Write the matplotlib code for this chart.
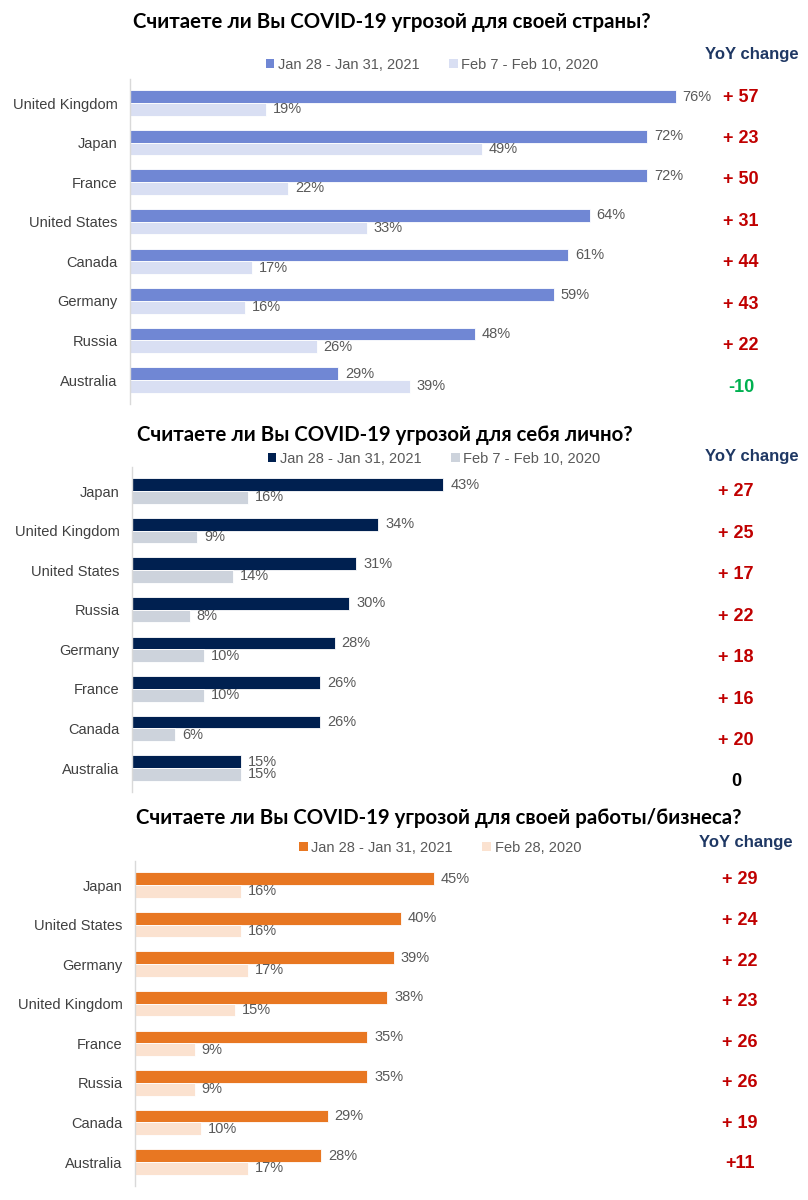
import matplotlib
matplotlib.use("Agg")
import matplotlib.pyplot as plt
from matplotlib.patches import Patch
import numpy as np

plt.rcParams['font.family'] = ['Liberation Sans', 'DejaVu Sans']

# ---------------- data ----------------
p1_countries = ["United Kingdom", "Japan", "France", "United States", "Canada", "Germany", "Russia", "Australia"]
p1_2021 = [76, 72, 72, 64, 61, 59, 48, 29]
p1_2020 = [19, 49, 22, 33, 17, 16, 26, 39]
p1_yoy = ["+ 57", "+ 23", "+ 50", "+ 31", "+ 44", "+ 43", "+ 22", "-10"]
p1_title = "Считаете ли Вы COVID-19 угрозой для своей страны?"
p1_legend = ["Jan 28 - Jan 31, 2021", "Feb 7 - Feb 10, 2020"]

p2_countries = ["Japan", "United Kingdom", "United States", "Russia", "Germany", "France", "Canada", "Australia"]
p2_2021 = [43, 34, 31, 30, 28, 26, 26, 15]
p2_2020 = [16, 9, 14, 8, 10, 10, 6, 15]
p2_yoy = ["+ 27", "+ 25", "+ 17", "+ 22", "+ 18", "+ 16", "+ 20", "0"]
p2_title = "Считаете ли Вы COVID-19 угрозой для себя лично?"
p2_legend = ["Jan 28 - Jan 31, 2021", "Feb 7 - Feb 10, 2020"]

p3_countries = ["Japan", "United States", "Germany", "United Kingdom", "France", "Russia", "Canada", "Australia"]
p3_2021 = [45, 40, 39, 38, 35, 35, 29, 28]
p3_2020 = [16, 16, 17, 15, 9, 9, 10, 17]
p3_yoy = ["+ 29", "+ 24", "+ 22", "+ 23", "+ 26", "+ 26", "+ 19", "+11"]
p3_title = "Считаете ли Вы COVID-19 угрозой для своей работы/бизнеса?"
p3_legend = ["Jan 28 - Jan 31, 2021", "Feb 28, 2020"]

W, H = 808, 1200
fig = plt.figure(figsize=(W / 100, H / 100), dpi=100)
fig.patch.set_facecolor("white")

TXT = "#404040"
VAL = "#595959"
RED = "#C00000"
GREEN = "#00B050"
NAVY = "#1F3864"


def rect(x0, y0, x1, y1):
    return [x0 / W, 1 - y1 / H, (x1 - x0) / W, (y1 - y0) / H]


def panel(countries, v21, v20, yoy, title, legend_labels, c21, c20,
          x0, scale, yfirst, ylast, title_xy, legend_xy, yoy_head_xy,
          yoy_x, yoy_first, yoy_last):
    n = len(countries)
    sp = (ylast - yfirst) / (n - 1)
    xmax = 80
    ax = fig.add_axes(rect(x0, yfirst - 0.6 * sp, x0 + xmax * scale, ylast + 0.6 * sp))
    y = np.arange(n)
    h = 0.32
    ax.barh(y - h / 2, v21, height=h, color=c21, edgecolor="white", linewidth=0.6)
    ax.barh(y + h / 2, v20, height=h, color=c20, edgecolor="white", linewidth=0.6)
    for i in range(n):
        ax.annotate(f"{v21[i]}%", (v21[i], y[i] - h / 2), xytext=(5, 0),
                    textcoords="offset points", va="center", ha="left",
                    fontsize=10.5, color=VAL)
        ax.annotate(f"{v20[i]}%", (v20[i], y[i] + h / 2), xytext=(5, 0),
                    textcoords="offset points", va="center", ha="left",
                    fontsize=10.5, color=VAL)
    ax.set_xlim(0, xmax)
    ax.set_ylim(n - 0.4, -0.6)
    ax.set_yticks(y)
    ax.set_yticklabels(countries, fontsize=10.5, color=TXT)
    ax.tick_params(axis="y", length=0, pad=9)
    ax.set_xticks([])
    for s in ["top", "right", "bottom"]:
        ax.spines[s].set_visible(False)
    ax.spines["left"].set_color("#D9D9D9")
    ax.spines["left"].set_linewidth(1.0)
    ax.patch.set_alpha(0)

    fig.text(title_xy[0] / W, 1 - title_xy[1] / H, title, ha="center", va="center",
             fontsize=14.7, fontweight="bold", family=["Lato", "DejaVu Sans"], color="black")

    handles = [Patch(facecolor=c21, edgecolor="none"), Patch(facecolor=c20, edgecolor="none")]
    fig.legend(handles, legend_labels, loc="center",
               bbox_to_anchor=(legend_xy[0] / W, 1 - legend_xy[1] / H),
               ncol=2, frameon=False, fontsize=10.5, labelcolor=VAL,
               handlelength=0.6, handleheight=0.6, handletextpad=0.25,
               columnspacing=2.0, borderaxespad=0, borderpad=0)

    fig.text(yoy_head_xy[0] / W, 1 - yoy_head_xy[1] / H, "YoY change", ha="center",
             va="center", fontsize=12, fontweight="bold", color=NAVY)

    yax = fig.add_axes(rect(yoy_x - 30, yoy_first, yoy_x + 30, yoy_last))
    yax.set_axis_off()
    yax.set_xlim(0, 1)
    yax.set_ylim(n - 1, 0)
    for i, lab in enumerate(yoy):
        if lab.startswith("-"):
            col = GREEN
        elif lab.strip() == "0":
            col = "black"
        else:
            col = RED
        yax.text(0.5, i, lab, ha="center", va="center", fontsize=13,
                 fontweight="bold", color=col)
    return ax


panel(p1_countries, p1_2021, p1_2020, p1_yoy, p1_title, p1_legend,
      "#7087D4", "#D9DFF3",
      x0=130, scale=7.18, yfirst=103, ylast=380,
      title_xy=(392, 22), legend_xy=(432, 65), yoy_head_xy=(752, 54),
      yoy_x=741, yoy_first=97, yoy_last=387)

panel(p2_countries, p2_2021, p2_2020, p2_yoy, p2_title, p2_legend,
      "#002050", "#CDD3DC",
      x0=132, scale=7.24, yfirst=491, ylast=768,
      title_xy=(385, 435), legend_xy=(434, 459), yoy_head_xy=(752, 456),
      yoy_x=736, yoy_first=492, yoy_last=782)

panel(p3_countries, p3_2021, p3_2020, p3_yoy, p3_title, p3_legend,
      "#E87722", "#FBE2D0",
      x0=135, scale=6.64, yfirst=885, ylast=1162,
      title_xy=(439, 818), legend_xy=(440, 848), yoy_head_xy=(746, 842),
      yoy_x=740, yoy_first=880, yoy_last=1164)

fig.savefig("out.png", dpi=100, facecolor="white")
